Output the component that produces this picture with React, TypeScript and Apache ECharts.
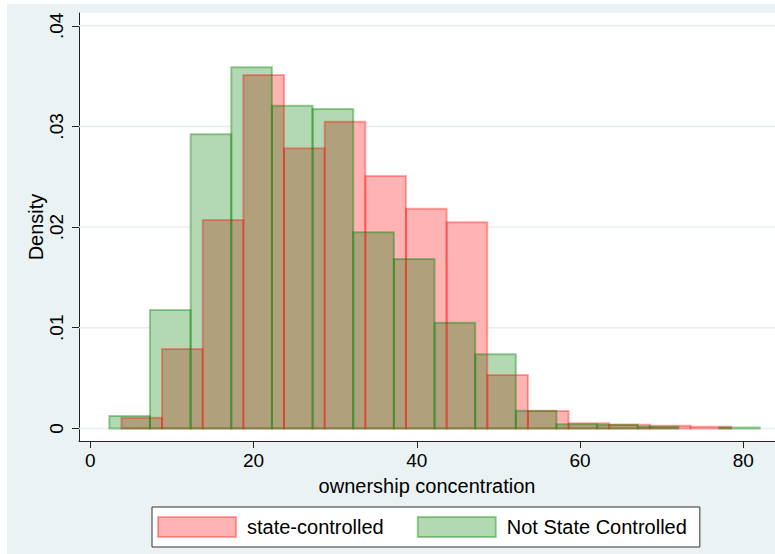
import React, { useEffect, useRef } from "react";
import * as echarts from "echarts";

// ---- data ----
const xTicks = [0, 20, 40, 60, 80];
const yTicks = [0, 0.01, 0.02, 0.03, 0.04];
const yTickLabels = ["0", ".01", ".02", ".03", ".04"];

const binWidth = 4.98;
const stateName = "state-controlled";
const nonStateName = "Not State Controlled";
const stateStart = 3.81;
const stateDensity = [
  0.00106, 0.00789, 0.0207, 0.03511, 0.02783, 0.03047, 0.02508, 0.02183,
  0.02048, 0.00531, 0.00174, 0.0005, 0.00037, 0.00027, 0.00017,
];
const nonStateStart = 2.33;
const nonStateDensity = [
  0.00123, 0.01176, 0.02922, 0.03588, 0.03206, 0.03173, 0.01948, 0.01683,
  0.0105, 0.00737, 0.00176, 0.0004, 0.00036, 0.00017, 0, 0.0001,
];

// ---- derived ----
type Bin = [number, number, number];
const toBins = (start: number, vals: number[]): Bin[] =>
  vals.map((h, i) => [start + i * binWidth, start + (i + 1) * binWidth, h]);
const stateBins = toBins(stateStart, stateDensity);
const nonStateBins = toBins(nonStateStart, nonStateDensity);
const overlapBins: Bin[] = [];
stateBins.forEach((a) => {
  nonStateBins.forEach((b) => {
    const lo = Math.max(a[0], b[0]);
    const hi = Math.min(a[1], b[1]);
    const h = Math.min(a[2], b[2]);
    if (hi > lo && h > 0) overlapBins.push([lo, hi, h]);
  });
});

const FONT = "'Liberation Sans', Arial, sans-serif";
const RED_FILL = "#ffb3b3";
const GREEN_FILL = "#b3d9b3";
const MIX_FILL = "#b0a07b";
const RED_LINE = "rgba(255,0,0,0.33)";
const GREEN_LINE = "rgba(0,128,0,0.38)";

const rectRenderer =
  (fill: string, stroke: string | null, lw: number) =>
  (params: any, api: any) => {
    const s = api.value(0);
    const e = api.value(1);
    const h = api.value(2);
    if (!(h > 0)) return null;
    const p0 = api.coord([s, h]);
    const p1 = api.coord([e, 0]);
    return {
      type: "rect",
      shape: { x: p0[0], y: p0[1], width: p1[0] - p0[0], height: p1[1] - p0[1] },
      style: stroke
        ? { fill: "none", stroke, lineWidth: lw }
        : { fill, stroke: "none" },
    };
  };

export default function App() {
  const ref = useRef<HTMLDivElement>(null);
  useEffect(() => {
    if (!ref.current) return;
    const chart = echarts.init(ref.current, undefined, { renderer: "svg" });
    const gridRender = (params: any, api: any) => {
      const v = api.value(0);
      const y = api.coord([0, v])[1];
      const cs = params.coordSys;
      return {
        type: "line",
        shape: { x1: cs.x, y1: y, x2: cs.x + cs.width, y2: y },
        style: { stroke: "#e7eef0", lineWidth: 1.5 },
      };
    };
    chart.setOption({
      animation: false,
      backgroundColor: "#eaf2f3",
      textStyle: { fontFamily: FONT },
      grid: {
        left: 72,
        top: 9,
        right: 0,
        bottom: 113,
        show: true,
        backgroundColor: "#ffffff",
        borderWidth: 0,
      },
      xAxis: {
        type: "value",
        min: -1.384,
        max: 83.88,
        name: "ownership concentration",
        nameLocation: "middle",
        nameGap: 35,
        nameMoveOverlap: false,
        nameTextStyle: { fontSize: 20, color: "#000", fontFamily: FONT },
        axisLine: { show: true, onZero: false, lineStyle: { color: "#222", width: 1 } },
        axisTick: {
          show: true,
          length: 7,
          customValues: xTicks,
          lineStyle: { color: "#222" },
        },
        axisLabel: {
          customValues: xTicks,
          fontSize: 19,
          color: "#000",
          margin: 10,
          fontFamily: FONT,
        },
        splitLine: { show: false },
      },
      yAxis: {
        type: "value",
        min: -0.001252,
        max: 0.04127,
        name: "Density",
        nameLocation: "middle",
        nameGap: 33,
        nameMoveOverlap: false,
        nameTextStyle: { fontSize: 20, color: "#000", fontFamily: FONT },
        axisLine: { show: true, onZero: false, lineStyle: { color: "#222", width: 1 } },
        axisTick: {
          show: true,
          length: 7,
          customValues: yTicks,
          lineStyle: { color: "#222" },
        },
        axisLabel: {
          customValues: yTicks,
          rotate: 90,
          fontSize: 19,
          color: "#000",
          margin: 13,
          fontFamily: FONT,
          formatter: (v: number) => {
            const i = yTicks.findIndex((t) => Math.abs(t - v) < 1e-9);
            return i >= 0 ? yTickLabels[i] : "";
          },
        },
        splitLine: { show: false },
      },
      legend: {
        left: 145,
        top: 503,
        orient: "horizontal",
        padding: [9, 13, 9, 5],
        itemGap: 33,
        itemWidth: 78,
        itemHeight: 20,
        icon: "rect",
        borderColor: "#333",
        borderWidth: 1,
        backgroundColor: "#fff",
        textStyle: { fontSize: 20, color: "#000", fontFamily: FONT, padding: [0, 0, 0, 6] },
        data: [
          { name: stateName, itemStyle: { color: RED_FILL, borderColor: RED_LINE, borderWidth: 2 } },
          { name: nonStateName, itemStyle: { color: GREEN_FILL, borderColor: GREEN_LINE, borderWidth: 2 } },
        ],
      },
      series: [
        {
          type: "custom",
          name: "grid",
          z: 1,
          silent: true,
          data: yTicks.map((v) => [v]),
          renderItem: gridRender,
        },
        {
          type: "custom",
          name: stateName,
          z: 2,
          itemStyle: { color: RED_FILL },
          data: stateBins,
          encode: { x: [0, 1], y: 2 },
          renderItem: rectRenderer(RED_FILL, null, 0),
        },
        {
          type: "custom",
          name: nonStateName,
          z: 3,
          itemStyle: { color: GREEN_FILL },
          data: nonStateBins,
          encode: { x: [0, 1], y: 2 },
          renderItem: rectRenderer(GREEN_FILL, null, 0),
        },
        {
          type: "custom",
          name: "overlap",
          z: 4,
          data: overlapBins,
          encode: { x: [0, 1], y: 2 },
          renderItem: rectRenderer(MIX_FILL, null, 0),
        },
        {
          type: "custom",
          name: "state-edge",
          z: 5,
          data: stateBins,
          encode: { x: [0, 1], y: 2 },
          renderItem: rectRenderer("none", RED_LINE, 2),
        },
        {
          type: "custom",
          name: "nonstate-edge",
          z: 6,
          data: nonStateBins,
          encode: { x: [0, 1], y: 2 },
          renderItem: rectRenderer("none", GREEN_LINE, 2),
        },
      ],
    });
    return () => chart.dispose();
  }, []);
  return (
    <div
      ref={ref}
      style={{ position: "absolute", left: 7, top: 4, width: 768, height: 550 }}
    />
  );
}
